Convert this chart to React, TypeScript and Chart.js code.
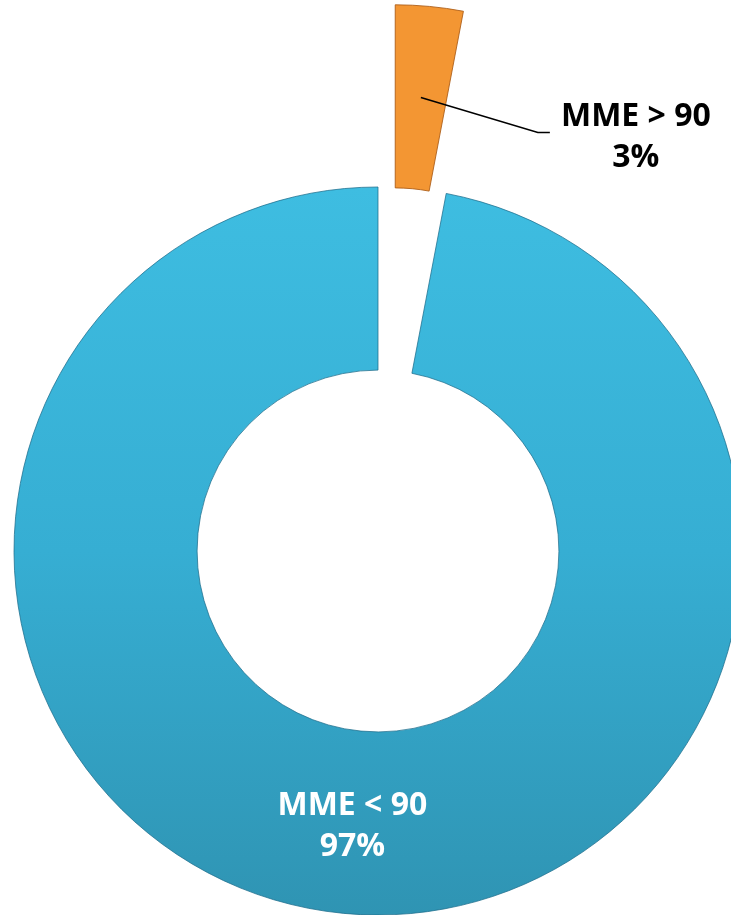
import React, { useEffect, useRef } from "react";
import { Chart, registerables } from "chart.js";

Chart.register(...registerables);

// ---- data ----
const categories = ["MME > 90", "MME < 90"];
const shares = [3, 97];
const explodeDistances = [183, 0];
const sliceColors = ["#F39633", "#3AB6DB"];
const sliceBorders = ["rgba(170,90,20,0.85)", "rgba(30,110,140,0.75)"];
const labelColors = ["#000000", "#FFFFFF"];

const FONT = "bold 32px 'Open Sans', 'Noto Sans', sans-serif";

const explodePlugin = {
  id: "explodeSlices",
  afterDatasetUpdate(chart: any, args: any) {
    const meta = chart.getDatasetMeta(args.index);
    meta.data.forEach((arc: any, i: number) => {
      const d = explodeDistances[i] || 0;
      if (!d) return;
      const mid = (arc.startAngle + arc.endAngle) / 2;
      arc.x += Math.cos(mid) * d;
      arc.y += Math.sin(mid) * d;
    });
  },
};

const labelPlugin = {
  id: "sliceLabels",
  afterDatasetsDraw(chart: any) {
    const meta = chart.getDatasetMeta(0);
    const c: CanvasRenderingContext2D = chart.ctx;
    meta.data.forEach((arc: any, i: number) => {
      const p = arc.tooltipPosition();
      const lines = [categories[i], shares[i] + "%"];
      c.save();
      c.font = FONT;
      c.fillStyle = labelColors[i];
      c.textAlign = "center";
      c.textBaseline = "alphabetic";
      if (explodeDistances[i]) {
        c.strokeStyle = "#000";
        c.lineWidth = 1.5;
        c.beginPath();
        c.moveTo(p.x, p.y);
        c.lineTo(p.x + 117, p.y + 35);
        c.lineTo(p.x + 129, p.y + 35);
        c.stroke();
        const cx = p.x + 215;
        c.fillText(lines[0], cx, p.y + 28);
        c.fillText(lines[1], cx, p.y + 69);
      } else {
        c.fillText(lines[0], p.x, p.y - 7);
        c.fillText(lines[1], p.x, p.y + 34);
      }
      c.restore();
    });
  },
};

export default function App() {
  const ref = useRef<HTMLCanvasElement>(null);
  useEffect(() => {
    const canvas = ref.current!;
    const chart = new Chart(canvas, {
      type: "doughnut",
      data: {
        labels: categories,
        datasets: [
          {
            data: shares,
            backgroundColor: (ctx: any) => {
              const i = ctx.dataIndex;
              const area = ctx.chart.chartArea;
              if (i === 1 && area) {
                const g = ctx.chart.ctx.createLinearGradient(0, area.top, 0, area.bottom);
                g.addColorStop(0, "#3EBDE1");
                g.addColorStop(0.5, "#36AED3");
                g.addColorStop(1, "#2F94B3");
                return g;
              }
              return sliceColors[i];
            },
            borderColor: sliceBorders,
            borderWidth: 1,
            clip: false as any,
          },
        ],
      },
      options: {
        responsive: false,
        animation: false,
        radius: 364,
        cutout: "49.7%",
        rotation: 0,
        layout: { padding: { left: 25, top: 187, right: 0, bottom: 0 } },
        plugins: {
          legend: { display: false },
          tooltip: { enabled: false },
        },
      } as any,
      plugins: [explodePlugin, labelPlugin],
    });
    return () => chart.destroy();
  }, []);
  return (
    <div style={{ position: "absolute", left: 0, top: 0, width: 731, height: 915, background: "#fff" }}>
      <canvas ref={ref} width={731} height={915} style={{ display: "block", width: 731, height: 915 }} />
    </div>
  );
}
